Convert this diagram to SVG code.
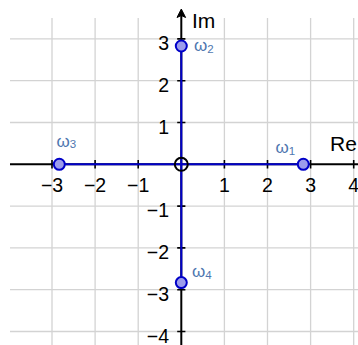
<svg xmlns="http://www.w3.org/2000/svg" width="358" height="345" viewBox="0 0 358 345">
<style>
.grid{stroke:#d3d3d3;stroke-width:1.3;fill:none}
.axis{stroke:#000;stroke-width:2;fill:none}
.tick{stroke:#000;stroke-width:1.6}
.seg{stroke:#0000c8;stroke-width:2;fill:none}
.num{font-family:"Liberation Sans",Arial,sans-serif;font-size:19.5px;fill:#000}
.ax{font-family:"Liberation Sans",Arial,sans-serif;font-size:21px;fill:#000}
.lbl{font-family:"Liberation Sans",Arial,sans-serif;font-size:17px;fill:#4f77b0}
.sub{font-size:11.5px}
.pt{fill:#9c9cec;stroke:#0000c8;stroke-width:2}
</style>
<rect width="358" height="345" fill="#fff"/>
<g id="grid" class="grid">
<path d="M52 18V345M95.1 18V345M138.2 18V345M224.4 18V345M267.5 18V345M310.6 18V345M353.7 18V345"/>
<path d="M10 38.9H358M10 80.7H358M10 122.5H358M10 206.1H358M10 247.9H358M10 289.7H358M10 331.5H358"/>
</g>
<g id="axes">
<path class="axis" d="M10 164.3H358"/>
<path class="axis" d="M181.3 345V14"/>
<path d="M181.3 9L177 17.5L181.3 15.5L185.6 17.5Z" fill="#000" stroke="#000" stroke-width="1"/>
<path class="tick" d="M52 160v8.6M95.1 160v8.6M138.2 160v8.6M224.4 160v8.6M267.5 160v8.6M310.6 160v8.6M353.7 160v8.6"/>
<path class="tick" d="M177.2 38.9h8.2M177.2 80.7h8.2M177.2 122.5h8.2M177.2 206.1h8.2M177.2 247.9h8.2M177.2 289.7h8.2M177.2 331.5h8.2"/>
</g>
<g id="xlabels" class="num" text-anchor="middle">
<text x="52" y="191.5">−3</text>
<text x="95.1" y="191.5">−2</text>
<text x="138.2" y="191.5">−1</text>
<text x="224.4" y="191.5">1</text>
<text x="267.5" y="191.5">2</text>
<text x="310.6" y="191.5">3</text>
<text x="353.7" y="191.5">4</text>
</g>
<g id="ylabels" class="num" text-anchor="end">
<text x="169" y="49.9">3</text>
<text x="169" y="91.7">2</text>
<text x="169" y="133.5">1</text>
<text x="169" y="217.1">−1</text>
<text x="169" y="258.9">−2</text>
<text x="169" y="300.7">−3</text>
<text x="169" y="342.5">−4</text>
</g>
<text id="im" class="ax" x="192" y="28">Im</text>
<text id="re" class="ax" x="330" y="151">Re</text>
<g id="connectors">
<path class="seg" d="M59.3 164.3H303.3"/>
<path class="seg" d="M181.3 46V282.6"/>
</g>
<g id="origin"><circle cx="181.3" cy="164.3" r="6.5" fill="none" stroke="#000" stroke-width="2"/></g>
<g id="w1"><circle class="pt" cx="303.3" cy="164.3" r="5.5"/><text class="lbl" x="275.5" y="153">ω<tspan class="sub" dy="1.5">1</tspan></text></g>
<g id="w2"><circle class="pt" cx="181.3" cy="46" r="5.5"/><text class="lbl" x="194" y="51">ω<tspan class="sub" dy="1.5">2</tspan></text></g>
<g id="w3"><circle class="pt" cx="59.3" cy="164.3" r="5.5"/><text class="lbl" x="56.5" y="146.5">ω<tspan class="sub" dy="1.5">3</tspan></text></g>
<g id="w4"><circle class="pt" cx="181.3" cy="282.6" r="5.5"/><text class="lbl" x="192" y="277">ω<tspan class="sub" dy="1.5">4</tspan></text></g>
</svg>
